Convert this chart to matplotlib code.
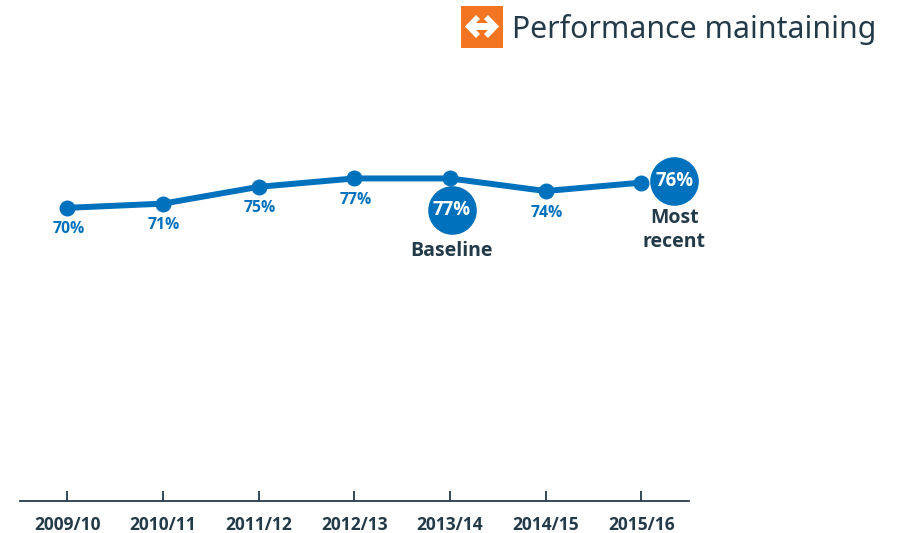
"""Performance maintaining: yearly percentage line with baseline and most recent callouts."""
import matplotlib
matplotlib.use("Agg")
import matplotlib.pyplot as plt
from matplotlib.patches import Polygon, Rectangle
from matplotlib.transforms import offset_copy

YEARS = ["2009/10", "2010/11", "2011/12", "2012/13", "2013/14", "2014/15", "2015/16"]
VALUES = [70, 71, 75, 77, 77, 74, 76]
TITLE = "Performance maintaining"
BASELINE_IDX = 4
RECENT_IDX = 6

BLUE = "#0071bc"
DARK = "#233a48"
ORANGE = "#f47521"
W, H = 897, 533
BOLD_FONT = "Open Sans"

plt.rcParams["font.family"] = ["Noto Sans", "DejaVu Sans"]

fig = plt.figure(figsize=(W / 100, H / 100), dpi=100)
ax = fig.add_axes([19.5 / W, 1 - 501 / H, 669.5 / W, 420 / H])

xs = list(range(len(YEARS)))
ax.plot(xs, VALUES, "-", color=BLUE, lw=4.3, solid_joinstyle="round", zorder=2)
ax.plot(xs, VALUES, "o", color=BLUE, ms=11.5, mew=0, zorder=3)

ax.set_xlim(-0.5, 6.5)
ax.set_ylim(0.2, 100.2)
ax.set_xticks(xs, YEARS, fontsize=12.5, fontweight="bold", color=DARK, family=BOLD_FONT)
ax.set_yticks([])
for s in ["top", "left", "right"]:
    ax.spines[s].set_visible(False)
ax.spines["bottom"].set_color(DARK)
ax.spines["bottom"].set_linewidth(1.3)
# tick marks stand above the axis line
ax.tick_params(axis="x", which="both", direction="in", length=7.5, width=1.3, color=DARK, pad=10.5)


def offset(dx, dy):
    return offset_copy(ax.transData, fig=fig, x=dx, y=dy, units="dots")


# value labels under the ordinary points
for i, (x, v) in enumerate(zip(xs, VALUES)):
    if i in (BASELINE_IDX, RECENT_IDX):
        continue
    ax.text(x, v, f"{v}%", transform=offset(1, -21.5), ha="center", va="center",
            fontsize=11.3, fontweight="bold", color=BLUE, family=BOLD_FONT)

# callout circles
callouts = [(BASELINE_IDX, 2, -32, ["Baseline"], -73), (RECENT_IDX, 33, 2, ["Most", "recent"], -35)]
for idx, dx, dy, words, ty in callouts:
    v = VALUES[idx]
    ax.plot([idx], [v], "o", color=BLUE, ms=35, mew=0, zorder=4, transform=offset(dx, dy),
            clip_on=False)
    ax.text(idx, v, f"{v}%", transform=offset(dx, dy), ha="center", va="center",
            fontsize=13.4, fontweight="bold", color="white", zorder=5, family=BOLD_FONT)
    for k, word in enumerate(words):
        ax.text(idx, v, word, transform=offset(dx, ty - k * 24),
                ha="center", va="center", fontsize=14, fontweight="bold", color=DARK,
                family=BOLD_FONT)

# header icon, in pixel coordinates
px = fig.add_axes([0, 0, 1, 1], facecolor="none")
px.set_xlim(0, W)
px.set_ylim(H, 0)
px.axis("off")
px.add_patch(Rectangle((461, 6), 42, 42, color=ORANGE, lw=0))
px.add_patch(Polygon([(465, 26.5), (476, 15), (480, 19), (476, 23), (488, 23), (484, 19),
                      (488, 15), (499, 26.5), (488, 38), (484, 34), (488, 30), (476, 30),
                      (480, 34), (476, 38)], color="white", lw=0))
px.text(512, 29.5, TITLE, ha="left", va="center", fontsize=21.8, color=DARK)

fig.savefig("out.png", dpi=100)
